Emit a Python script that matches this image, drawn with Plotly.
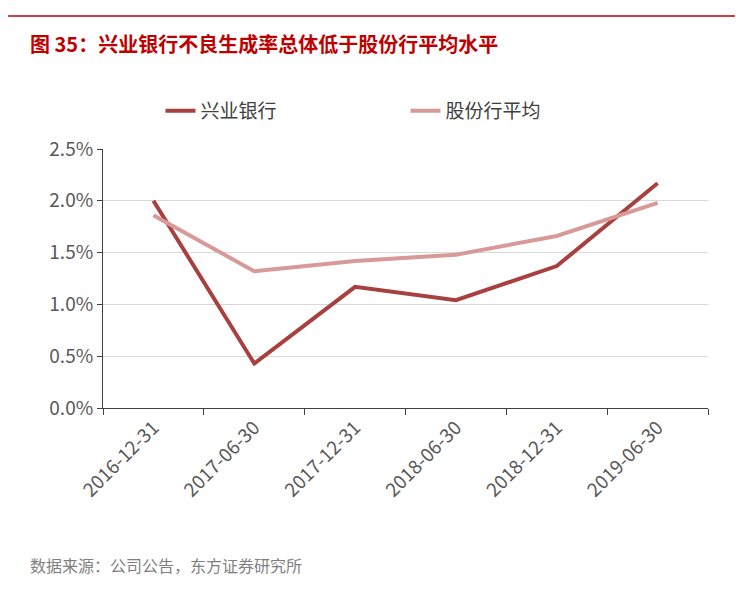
import plotly.graph_objects as go

categories = ["2016-12-31", "2017-06-30", "2017-12-31", "2018-06-30", "2018-12-31", "2019-06-30"]
xingye = [2.00, 0.43, 1.17, 1.04, 1.37, 2.17]
gufen = [1.86, 1.32, 1.42, 1.48, 1.66, 1.98]
yticks = [0, 0.5, 1.0, 1.5, 2.0, 2.5]
ytick_text = ["0.0%", "0.5%", "1.0%", "1.5%", "2.0%", "2.5%"]

font = "Noto Sans CJK SC"
fig = go.Figure()
fig.add_trace(go.Scatter(x=categories, y=xingye, mode="lines", name="兴业银行",
                         line=dict(color="#A8403F", width=4)))
fig.add_trace(go.Scatter(x=categories, y=gufen, mode="lines", name="股份行平均",
                         line=dict(color="#D79A99", width=4)))
fig.update_layout(
    width=743, height=590, paper_bgcolor="white", plot_bgcolor="white",
    margin=dict(l=95, r=43, t=141, b=190, autoexpand=False),
    font=dict(family=font, color="#595959", size=18),
    showlegend=True,
    legend=dict(orientation="h", x=0.5, xanchor="center", y=1 + 38/259, yanchor="middle",
                font=dict(size=19, color="#404040"), entrywidth=200),
    xaxis=dict(type="category", tickangle=-45, showline=True, linecolor="#404040",
               ticks="outside", tickson="boundaries", ticklen=6, tickcolor="#404040",
               tickfont=dict(size=19, color="#595959"), range=[-0.5, 5.5], automargin=False),
    yaxis=dict(range=[0, 2.5], tickvals=yticks, ticktext=ytick_text, showline=True,
               linecolor="#404040", ticks="outside", ticklen=5, tickcolor="#404040",
               gridcolor="#D9D9D9", gridwidth=1, zeroline=False, automargin=False,
               tickfont=dict(size=19, color="#595959")),
)
fig.add_annotation(text="<b>图 35：兴业银行不良生成率总体低于股份行平均水平</b>", xref="paper", yref="paper",
                   x=-75/605, y=1 + (141-36)/259, xanchor="left",
                   yanchor="middle", showarrow=False, font=dict(size=20, color="#C00000", family=font))
fig.add_annotation(text="数据来源：公司公告，东方证券研究所", xref="paper", yref="paper",
                   x=-75/605, y=-(557-400)/259, xanchor="left", yanchor="middle",
                   showarrow=False, font=dict(size=16, color="#7F7F7F", family=font))
fig.add_shape(type="line", xref="paper", yref="paper", x0=-95/605, x1=1+43/605,
              y0=1+(141-8)/259, y1=1+(141-8)/259, line=dict(color="#C00000", width=1.5))
fig.add_shape(type="line", xref="paper", yref="paper", x0=-95/605, x1=1+43/605,
              y0=-(583-400)/259, y1=-(583-400)/259, line=dict(color="#C00000", width=1.5))
fig.write_html("out.html")
